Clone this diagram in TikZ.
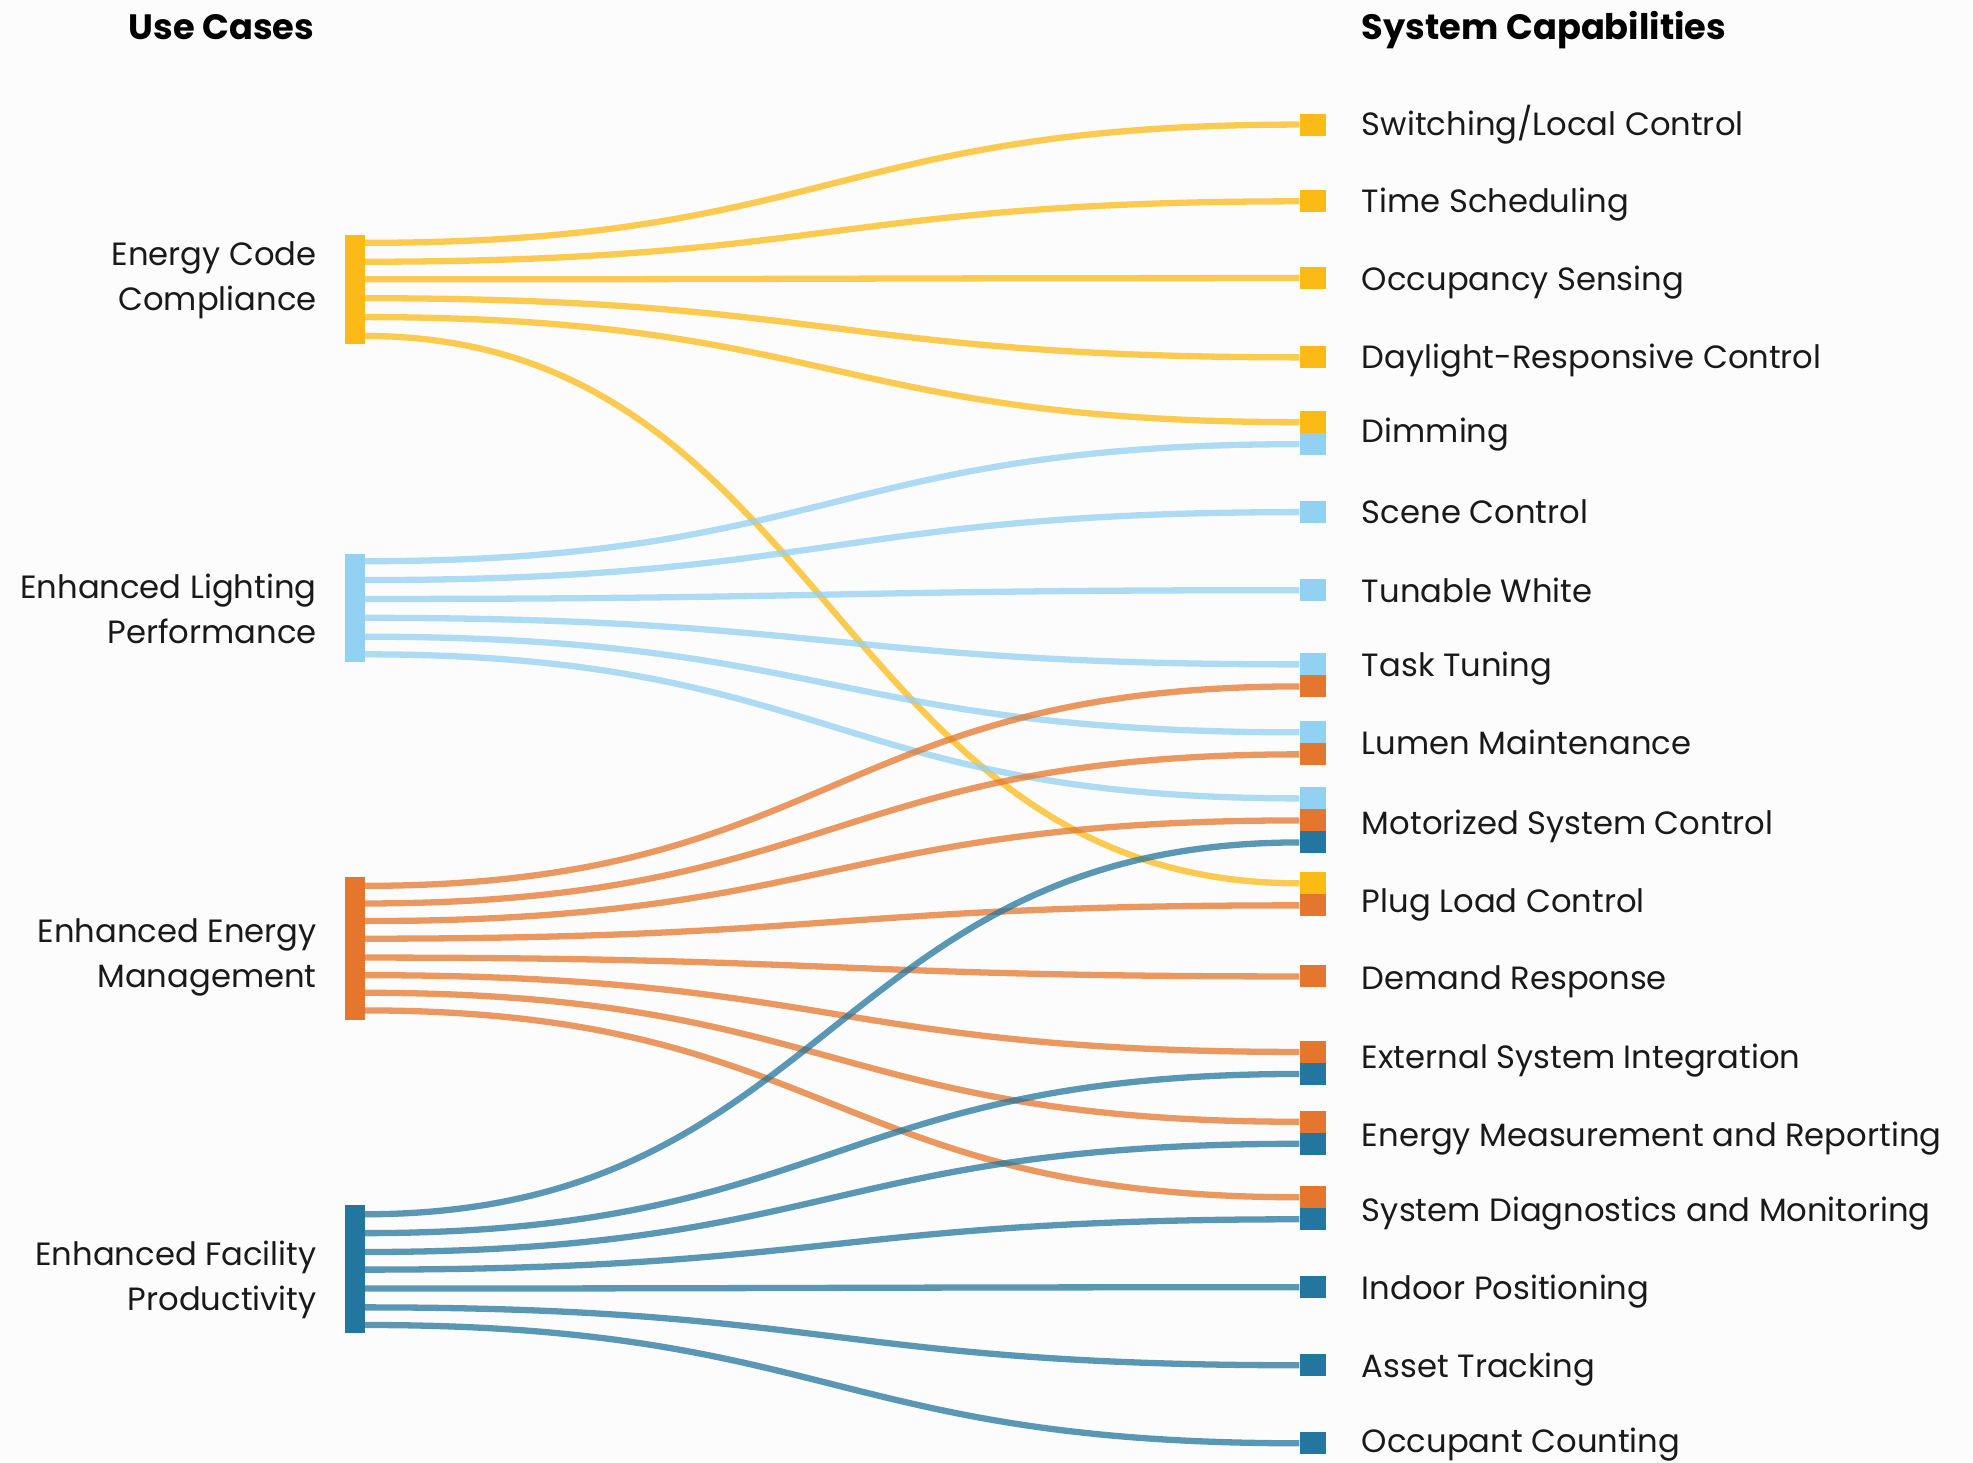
\documentclass[tikz,border=0pt]{standalone}
\usepackage{fontspec}
\setmainfont{Poppins}
\definecolor{cyel}{HTML}{FBBA16}
\definecolor{clb}{HTML}{92D1F1}
\definecolor{cor}{HTML}{E4762D}
\definecolor{cdb}{HTML}{23769D}
\definecolor{bgc}{HTML}{FCFCFC}
\begin{document}
\begin{tikzpicture}[x=0.5pt,y=-0.5pt,
  lab/.style={font=\fontsize{12.8}{18}\selectfont, text=black!90, inner sep=0pt},
  head/.style={font=\fontsize{14}{18}\selectfont\bfseries, text=black, inner sep=0pt},
  bar/.style={rectangle, inner sep=0pt, minimum width=8pt},
  sq/.style={rectangle, inner sep=0pt, minimum width=10.5pt, minimum height=8.75pt},
  link/.style={line width=2.5pt, draw opacity=0.75}]
\fill[bgc] (0,0) rectangle (1568,1162);
\useasboundingbox (0,0) rectangle (1568,1162);

% headers
\node[head, anchor=base east] (hl) at (250,31) {Use Cases};
\node[head, anchor=base west] (hr) at (1082,31) {System Capabilities};

% left bars
\node[bar, fill=cyel, minimum height=43pt] (ecc) at (282,230) {};
\node[bar, fill=clb, minimum height=43pt] (elp) at (282,483) {};
\node[bar, fill=cor, minimum height=57pt] (eem) at (282,754) {};
\node[bar, fill=cdb, minimum height=50.5pt] (efp) at (282,1008.5) {};

% left labels
\node[lab, anchor=east, align=right] (lecc) at (252,223) {Energy Code\\Compliance};
\node[lab, anchor=east, align=right] (lelp) at (252,484) {Enhanced Lighting\\Performance};
\node[lab, anchor=east, align=right] (leem) at (252,761) {Enhanced Energy\\Management};
\node[lab, anchor=east, align=right] (lefp) at (252,1017) {Enhanced Facility\\Productivity};

% right squares
\foreach \n/\y/\c in {sw/99/cyel, ts/160/cyel, os/221/cyel, dr/284/cyel,
  dimY/335.5/cyel, dimB/353/clb, sc/407/clb, tw/469/clb,
  ttB/528/clb, ttO/545.5/cor, lmB/582/clb, lmO/599.5/cor,
  mscB/634.5/clb, mscO/652/cor, mscD/669.5/cdb, plY/702/cyel, plO/719.5/cor,
  drs/776/cor, esiO/836/cor, esiD/853.5/cdb, emrO/891.5/cor, emrD/909/cdb,
  sdmO/951.5/cor, sdmD/969/cdb, ip/1023/cdb, at/1085/cdb, oc/1147/cdb}
  \node[sq, fill=\c] (\n) at (1043.5,\y) {};

% right labels
\node[lab, anchor=base west] (r1) at (1082,108) {Switching/Local Control};
\foreach \t/\y [count=\i from 2] in {Time Scheduling/160,
  Occupancy Sensing/222, Daylight-Responsive Control/284, Dimming/343,
  Scene Control/407, Tunable White/470, Task Tuning/529, Lumen Maintenance/591,
  Motorized System Control/654, Plug Load Control/716, Demand Response/777,
  External System Integration/840, Energy Measurement and Reporting/902,
  System Diagnostics and Monitoring/962, Indoor Positioning/1024,
  Asset Tracking/1086, Occupant Counting/1145}
  \node[lab, anchor=base west] (r\i) at (1082,\y+9) {\t};

% ports and links
\foreach \y/\tgt [count=\i] in {193/sw, 208/ts, 222/os, 237/dr, 252/dimY, 267/plY}{
  \coordinate (pa\i) at (290,\y);
  \draw[link, cyel] (pa\i) .. controls +(370,0) and +(-370,0) .. (\tgt.west);}
\foreach \y/\tgt [count=\i] in {446/dimB, 461/sc, 476/tw, 491/ttB, 506/lmB, 520/mscB}{
  \coordinate (pb\i) at (290,\y);
  \draw[link, clb] (pb\i) .. controls +(370,0) and +(-370,0) .. (\tgt.west);}
\foreach \y/\tgt [count=\i] in {704/ttO, 718/lmO, 732/mscO, 746/plO, 761/drs, 775/esiO, 789/emrO, 803/sdmO}{
  \coordinate (pc\i) at (290,\y);
  \draw[link, cor] (pc\i) .. controls +(370,0) and +(-370,0) .. (\tgt.west);}
\foreach \y/\tgt [count=\i] in {965/mscD, 980/esiD, 995/emrD, 1009/sdmD, 1024/ip, 1039/at, 1053/oc}{
  \coordinate (pd\i) at (290,\y);
  \draw[link, cdb] (pd\i) .. controls +(370,0) and +(-370,0) .. (\tgt.west);}
\end{tikzpicture}
\end{document}
